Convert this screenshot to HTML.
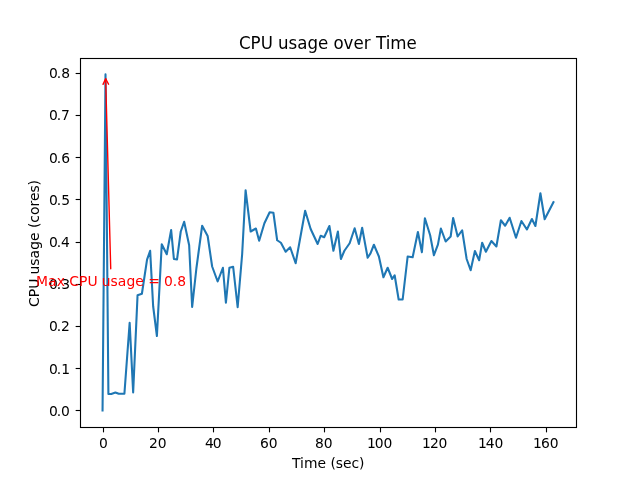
<!DOCTYPE html>
<html lang="en"><head><meta charset="utf-8"><title>CPU usage over Time</title>
<style>html,body{margin:0;padding:0;background:#fff;overflow:hidden}svg{display:block}text{font-family:"DejaVu Sans", "Liberation Sans", sans-serif}</style>
</head><body>
<svg width="640" height="480" viewBox="0 0 640 480">
<rect x="0" y="0" width="640" height="480" fill="#fff"/>
<g stroke="#000" stroke-width="1.111" fill="none">
<path d="M103.5 427.5V432.36"/>
<path d="M158.5 427.5V432.36"/>
<path d="M213.5 427.5V432.36"/>
<path d="M269.5 427.5V432.36"/>
<path d="M324.5 427.5V432.36"/>
<path d="M380.5 427.5V432.36"/>
<path d="M435.5 427.5V432.36"/>
<path d="M490.5 427.5V432.36"/>
<path d="M546.5 427.5V432.36"/>
<path d="M80.5 410.5H75.64"/>
<path d="M80.5 368.5H75.64"/>
<path d="M80.5 326.5H75.64"/>
<path d="M80.5 284.5H75.64"/>
<path d="M80.5 242.5H75.64"/>
<path d="M80.5 199.5H75.64"/>
<path d="M80.5 157.5H75.64"/>
<path d="M80.5 115.5H75.64"/>
<path d="M80.5 73.5H75.64"/>
</g>
<text transform="translate(103.295 448.000)" x="-4.414" font-size="13.889px" fill="#000">0</text>
<text transform="translate(157.824 448.000)" x="-8.953 -0.141" font-size="13.889px" fill="#000">20</text>
<text transform="translate(212.729 448.000)" x="-7.828 -0.016" font-size="13.889px" fill="#000">40</text>
<text transform="translate(268.758 448.000)" x="-8.828 -0.016" font-size="13.889px" fill="#000">60</text>
<text transform="translate(323.788 448.000)" x="-8.828 -0.141" font-size="13.889px" fill="#000">80</text>
<text transform="translate(379.192 448.000)" x="-12.242 -4.555 4.273" font-size="13.889px" fill="#000">100</text>
<text transform="translate(434.472 448.000)" x="-12.492 -4.555 4.023" font-size="13.889px" fill="#000">120</text>
<text transform="translate(490.376 448.000)" x="-12.492 -4.68 4.023" font-size="13.889px" fill="#000">140</text>
<text transform="translate(545.406 448.000)" x="-12.492 -4.43 4.273" font-size="13.889px" fill="#000">160</text>
<text transform="translate(328.375 468.000)" x="-36.422 -28.5 -24.406 -10.891 -2.344 2.062 7.344 14.578 23.109 30.5" font-size="13.889px" fill="#000">Time (sec)</text>
<text transform="translate(70.030 416.000)" x="-21.078 -13.391 -9.094" font-size="13.889px" fill="#000">0.0</text>
<text transform="translate(71.030 374.000)" x="-22.078 -14.391 -9.844" font-size="13.889px" fill="#000">0.1</text>
<text transform="translate(70.905 331.000)" x="-21.953 -14.266 -9.969" font-size="13.889px" fill="#000">0.2</text>
<text transform="translate(70.030 289.000)" x="-21.078 -13.391 -8.844" font-size="13.889px" fill="#000">0.3</text>
<text transform="translate(70.905 247.000)" x="-21.953 -14.266 -9.969" font-size="13.889px" fill="#000">0.4</text>
<text transform="translate(70.905 205.000)" x="-21.953 -14.266 -9.719" font-size="13.889px" fill="#000">0.5</text>
<text transform="translate(70.905 163.000)" x="-21.953 -14.266 -9.719" font-size="13.889px" fill="#000">0.6</text>
<text transform="translate(71.030 120.000)" x="-22.078 -14.391 -10.094" font-size="13.889px" fill="#000">0.7</text>
<text transform="translate(70.030 78.000)" x="-21.078 -13.391 -8.844" font-size="13.889px" fill="#000">0.8</text>
<text transform="translate(38.750 243.400) rotate(-90)" x="-63.633 -53.945 -45.461 -35.305 -31.148 -22.477 -15.117 -6.367 2.32 10.977 15.383 20.555 28.305 36.789 42.32 50.852 57.836" font-size="13.889px" fill="#000">CPU usage (cores)</text>
<path d="M102.55 410.40 L105.50 74.40 L108.40 394.00 L111.25 394.00 L115.40 392.50 L118.75 393.75 L124.40 393.75 L129.65 322.75 L133.15 392.50 L137.55 295.25 L141.90 293.75 L147.05 259.65 L150.15 250.85 L153.15 306.25 L156.90 336.00 L161.75 244.25 L166.75 254.25 L171.15 230.00 L173.90 259.00 L177.05 259.35 L180.75 231.50 L184.15 221.75 L189.15 245.25 L192.15 307.00 L196.40 268.25 L202.15 225.75 L207.65 236.00 L212.15 266.50 L217.65 281.50 L222.90 267.75 L225.90 302.75 L229.40 267.75 L233.15 266.75 L237.65 307.25 L242.15 254.25 L245.60 190.20 L250.65 231.50 L255.90 228.50 L259.15 240.75 L264.40 223.25 L269.65 212.25 L273.40 212.75 L277.15 240.25 L280.90 242.75 L285.65 251.75 L290.15 247.25 L295.65 263.25 L305.15 210.75 L310.65 229.00 L317.65 244.00 L320.65 235.75 L324.15 237.25 L329.40 226.00 L333.40 250.75 L337.90 231.50 L340.90 259.00 L344.40 250.75 L349.65 243.25 L354.65 228.25 L358.90 244.00 L362.15 227.75 L367.65 257.75 L370.50 253.40 L373.90 244.75 L378.90 256.50 L383.40 277.25 L387.65 267.75 L392.15 279.00 L394.65 275.25 L398.65 299.50 L402.65 299.50 L407.65 256.50 L412.65 257.25 L417.90 232.00 L421.90 252.25 L424.90 218.25 L430.15 235.25 L433.90 255.25 L437.90 244.60 L440.90 228.50 L445.65 241.50 L450.65 236.50 L453.15 218.00 L457.65 236.50 L462.15 230.25 L466.65 259.00 L470.65 270.25 L474.90 251.00 L479.15 260.25 L482.15 242.75 L485.90 251.75 L491.40 241.00 L496.40 246.50 L500.90 220.25 L505.15 225.75 L509.65 217.75 L516.00 237.70 L521.40 221.00 L526.90 229.50 L531.90 219.00 L535.40 226.00 L540.40 193.25 L544.65 219.25 L553.45 202.20" fill="none" stroke="#1f77b4" stroke-width="2.083" stroke-linejoin="round" stroke-linecap="square"/>
<rect x="80.5" y="58.5" width="496" height="369" fill="none" stroke="#000" stroke-width="1.111"/>
<g fill="none" stroke="#f00" stroke-width="1.389" stroke-linecap="round" stroke-linejoin="round">
<path d="M110.73 268.8L105.66 78.73"/>
<path d="M103.03 84.36L105.66 78.73L108.58 84.21"/>
</g>
<text transform="translate(111.080 286.200)" x="-75.055 -63.211 -54.461 -46.383 -41.961 -32.148 -23.664 -13.758 -9.352 -0.68 6.555 15.305 24.117 32.523 37.055 48.555 52.852 61.555 66.086" font-size="13.889px" fill="#f00">Max CPU usage = 0.8</text>
<text transform="translate(327.750 49.270) scale(1 1.075)" x="-88.861 -77.367 -67.063 -55.122 -49.824 -39.384 -30.59 -20.371 -9.79 0.459 5.742 15.696 25.679 35.928 42.901 48.199 57.986 62.497 78.721" font-size="16.667px" fill="#000">CPU usage over Time</text>
</svg>
</body></html>
